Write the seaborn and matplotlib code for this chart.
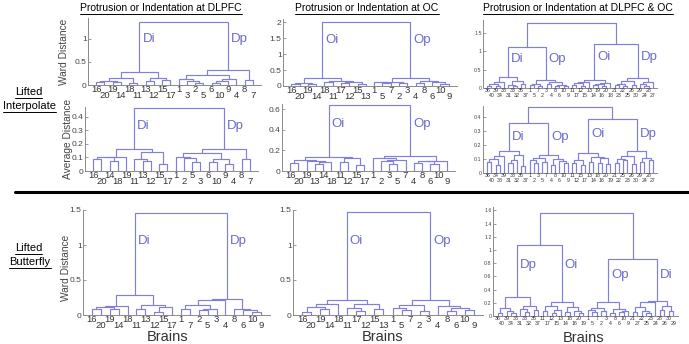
import numpy as np
import pandas as pd
import seaborn as sns
import matplotlib
matplotlib.use("Agg")
import matplotlib.pyplot as plt
from matplotlib.lines import Line2D

# leaf order of every dendrogram and the height at which each pair of
# neighbouring leaves gets joined (19 or 39 values per tree)
lw_dlpfc = [16, 20, 19, 14, 18, 11, 13, 12, 15, 17, 1, 3, 2, 5, 6, 10, 9, 4, 8, 7]
jw_dlpfc = [0.06, 0.09, 0.07, 0.145, 0.05, 0.29, 0.08, 0.16, 0.11, 1.37,
            0.13, 0.08, 0.04, 0.21, 0.05, 0.08, 0.12, 0.32, 0.11]
lw_oc = [16, 20, 19, 14, 18, 11, 17, 12, 15, 13, 1, 5, 7, 2, 3, 4, 8, 6, 10, 9]
jw_oc = [0.06, 0.10, 0.05, 0.24, 0.12, 0.17, 0.09, 0.13, 0.07, 2.0,
         0.12, 0.10, 0.14, 0.08, 0.24, 0.09, 0.15, 0.12, 0.05]
lw_both = [36, 40, 39, 34, 38, 31, 33, 32, 35, 37, 1, 5, 7, 2, 3, 4, 8, 6, 10, 9,
           11, 17, 12, 15, 13, 14, 19, 16, 20, 18, 21, 23, 22, 25, 26, 30, 29, 24, 28, 27]
jw_both = [0.06, 0.10, 0.05, 0.15, 0.29, 0.09, 0.06, 0.18, 0.11, 1.11,
           0.07, 0.12, 0.05, 0.22, 0.10, 0.15, 0.06, 0.09, 0.05, 1.78,
           0.08, 0.13, 0.05, 0.17, 0.22, 0.07, 0.11, 0.06, 0.14, 1.19,
           0.07, 0.12, 0.05, 0.18, 0.09, 0.26, 0.11, 0.06, 0.15]

la_dlpfc = [16, 20, 14, 18, 19, 11, 13, 12, 15, 17, 1, 2, 5, 3, 6, 10, 9, 4, 8, 7]
ja_dlpfc = [0.085, 0.10, 0.07, 0.105, 0.16, 0.085, 0.075, 0.14, 0.055, 0.46,
            0.10, 0.092, 0.065, 0.13, 0.068, 0.085, 0.05, 0.16, 0.09]
la_oc = [16, 20, 19, 13, 14, 18, 11, 12, 15, 17, 1, 2, 3, 5, 7, 4, 8, 6, 10, 9]
ja_oc = [0.08, 0.105, 0.095, 0.07, 0.09, 0.135, 0.085, 0.125, 0.06, 0.64,
         0.13, 0.095, 0.07, 0.105, 0.15, 0.08, 0.095, 0.065, 0.10]
la_both = [36, 40, 34, 38, 39, 31, 33, 32, 35, 37, 1, 2, 3, 5, 7, 4, 8, 6, 10, 9,
           11, 12, 15, 17, 13, 14, 18, 16, 20, 19, 21, 22, 25, 23, 26, 30, 29, 24, 28, 27]
ja_both = [0.08, 0.10, 0.06, 0.12, 0.16, 0.07, 0.09, 0.13, 0.05, 0.36,
           0.09, 0.07, 0.11, 0.08, 0.13, 0.06, 0.10, 0.085, 0.07, 0.47,
           0.075, 0.09, 0.06, 0.14, 0.08, 0.115, 0.07, 0.105, 0.065, 0.39,
           0.07, 0.10, 0.09, 0.12, 0.065, 0.16, 0.08, 0.11, 0.095]

lb_dlpfc = [16, 20, 19, 14, 18, 11, 13, 12, 15, 17, 1, 7, 2, 5, 3, 4, 8, 6, 10, 9]
jb_dlpfc = [0.09, 0.11, 0.085, 0.13, 0.29, 0.09, 0.15, 0.05, 0.11, 1.46,
            0.08, 0.15, 0.07, 0.09, 0.22, 0.235, 0.09, 0.075, 0.05]
lb_oc = [16, 20, 19, 14, 18, 11, 17, 12, 15, 13, 1, 5, 7, 2, 3, 4, 8, 6, 10, 9]
jb_oc = [0.05, 0.12, 0.08, 0.16, 0.21, 0.10, 0.06, 0.157, 0.09, 1.47,
         0.10, 0.07, 0.14, 0.06, 0.22, 0.13, 0.06, 0.10, 0.07]
lb_both = [36, 40, 39, 34, 38, 31, 33, 32, 35, 37, 11, 17, 12, 15, 13, 14, 18, 16, 20, 19,
           1, 5, 7, 2, 3, 4, 8, 6, 10, 9, 21, 27, 22, 25, 23, 24, 28, 26, 30, 29]
jb_both = [0.05, 0.12, 0.08, 0.045, 0.29, 0.10, 0.06, 0.15, 0.09, 1.07,
           0.07, 0.15, 0.05, 0.09, 0.21, 0.06, 0.13, 0.08, 0.05, 1.56,
           0.09, 0.06, 0.12, 0.07, 0.21, 0.05, 0.10, 0.06, 0.08, 0.87,
           0.06, 0.14, 0.08, 0.05, 0.215, 0.225, 0.09, 0.15, 0.07]

names_dlpfc = ["Di", "Dp"]
names_oc = ["Oi", "Op"]
names_both_ip = ["Di", "Op", "Oi", "Dp"]
names_both_bf = ["Dp", "Oi", "Op", "Di"]

titles = ["Protrusion or Indentation at DLPFC", "Protrusion or Indentation at OC",
          "Protrusion or Indentation at DLPFC & OC"]

LINE = "#8080dc"
TXT = "#6b6bd0"
W, H = 689, 344

sns.set_style("ticks")
plt.rcParams["font.family"] = ["Liberation Sans", "DejaVu Sans"]

fig = plt.figure(figsize=(W / 100, H / 100), dpi=100)


def build(joins, lo, hi, segs):
    # returns x and height of the node spanning leaves lo..hi
    if lo == hi:
        return lo + 1, 0.0
    k = lo + int(np.argmax(joins[lo:hi]))
    xl, hl = build(joins, lo, k, segs)
    xr, hr = build(joins, k + 1, hi, segs)
    h = joins[k]
    segs.append(([xl, xl, xr, xr], [hl, h, h, hr]))
    return (xl + xr) / 2, h


# leaves, joins, cluster names, ymax, tick step, pixel box (x0, x1, top, bottom), ylabel
panels = [
    (lw_dlpfc, jw_dlpfc, names_dlpfc, 1.45, 0.5, (88, 261, 18, 85), "Ward Distance"),
    (lw_oc, jw_oc, names_oc, 2.1, 0.5, (283, 457, 19, 86), None),
    (lw_both, jw_both, names_both_ip, 1.85, 0.5, (483, 657, 20, 88), None),
    (la_dlpfc, ja_dlpfc, names_dlpfc, 0.47, 0.1, (85, 258, 107, 171), "Average Distance"),
    (la_oc, ja_oc, names_oc, 0.65, 0.2, (282, 455, 104, 171), None),
    (la_both, ja_both, names_both_ip, 0.48, 0.1, (483, 657, 106, 173), None),
    (lb_dlpfc, jb_dlpfc, names_dlpfc, 1.5, 0.5, (83, 270, 210, 315), "Ward Distance"),
    (lb_oc, jb_oc, names_oc, 1.5, 0.5, (293, 483, 210, 315), None),
    (lb_both, jb_both, names_both_bf, 1.65, 0.2, (493, 678, 207, 316), None),
]
ylab_pos = {0: (-0.139, 0.5), 3: (-0.10, 0.5), 6: (-0.091, 0.45)}
brains_x = {6: 0.45, 7: 0.47, 8: 0.49}

for i, (leaves, joins, names, ymax, step, box, ylab) in enumerate(panels):
    x0, x1, top, bot = box
    ax = fig.add_axes([x0 / W, 1 - bot / H, (x1 - x0) / W, (bot - top) / H])
    n = len(leaves)
    segs = []
    build(joins, 0, n - 1, segs)
    rows = []
    for s, (xs, ys) in enumerate(segs):
        for xv, yv in zip(xs, ys):
            rows.append({"seg": s, "x": xv, "y": yv})
    df = pd.DataFrame(rows)
    sns.lineplot(data=df, x="x", y="y", units="seg", estimator=None, sort=False,
                 color=LINE, linewidth=0.85, ax=ax, legend=False)
    ax.set_xlim(0, n + 1)
    ax.set_ylim(0, ymax)
    ax.set_xlabel("")
    ax.set_ylabel("")
    sns.despine(ax=ax)
    for sp in ("left", "bottom"):
        ax.spines[sp].set_color("#8a8a8a")
        ax.spines[sp].set_linewidth(0.7)
    small = n > 20
    ax.set_yticks(np.arange(0, ymax + 1e-9, step))
    ax.yaxis.set_major_formatter(plt.FuncFormatter(lambda v, _: f"{round(v, 2):g}"))
    ax.tick_params(axis="y", direction="in", length=2, width=0.6, color="#8a8a8a",
                   labelsize=3.8 if small else 6, labelcolor="#444444", pad=1)
    ax.set_xticks(np.arange(1, n + 1))
    ax.set_xticklabels([])
    ax.tick_params(axis="x", direction="in", length=1.5, width=0.5, color="#8a8a8a")

    # staggered leaf labels
    up, low = (1.9, 5.3) if small else (3.0, 7.6)
    for j, lab in enumerate(leaves):
        ax.annotate(str(lab), (j + 1, 0), xycoords=ax.get_xaxis_transform(),
                    xytext=(0, -(up if j % 2 == 0 else low)), textcoords="offset points",
                    ha="center", va="center", fontsize=3.8 if small else 6.8,
                    color="#333333")

    # cluster names next to the vertical that joins each cluster
    block = n // len(names)
    for b, name in enumerate(names):
        lo, hi = b * block, (b + 1) * block - 1
        xc, _ = build(joins, lo, hi, [])
        bounds = []
        if lo > 0:
            bounds.append(joins[lo - 1])
        if hi < n - 1:
            bounds.append(joins[hi])
        ax.annotate(name, (xc, 0.72 * min(bounds)), xytext=(2.2, 0),
                    textcoords="offset points", ha="left", va="center",
                    color=TXT, fontsize=9.5)

    if ylab:
        ax.set_ylabel(ylab, fontsize=7.3, color="#444444", va="center")
        ax.yaxis.set_label_coords(*ylab_pos[i])
    if i in brains_x:
        ax.set_xlabel("Brains", fontsize=10.5, color="#333333", va="center")
        ax.xaxis.set_label_coords(brains_x[i], -0.205)

# titles and row labels
under = []
for t, xc in zip(titles, [161, 367, 578]):
    under.append(fig.text(xc / W, 1 - 8 / H, t, ha="center", va="center",
                          fontsize=7.5, color="black"))
for t, xc, yc in [("Lifted", 28.5, 92), ("Interpolate", 29, 106),
                  ("Lifted", 28.5, 248), ("Butterfly", 30, 262)]:
    under.append(fig.text(xc / W, 1 - yc / H, t, ha="center", va="center",
                          fontsize=8, color="black"))

fig.add_artist(Line2D([15 / W, 1.0], [1 - 192 / H, 1 - 192 / H],
                      transform=fig.transFigure, color="black", lw=2.2))

fig.canvas.draw()
r = fig.canvas.get_renderer()
inv = fig.transFigure.inverted()
for t in under:
    bb = t.get_window_extent(r)
    (ax0, ay), (ax1, _) = inv.transform([(bb.x0, bb.y0 - 0.6), (bb.x1, bb.y0)])
    fig.add_artist(Line2D([ax0, ax1], [ay, ay], transform=fig.transFigure,
                          color="black", lw=0.7))

fig.savefig("out.png", dpi=100)
